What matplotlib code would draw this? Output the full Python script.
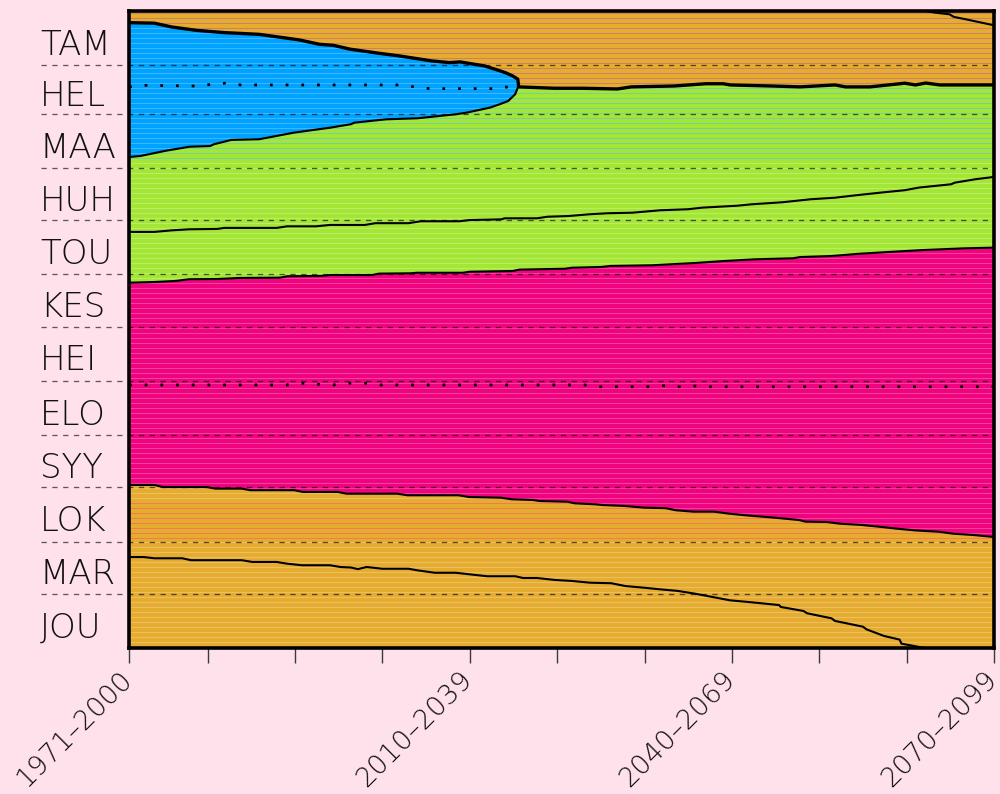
import numpy as np
import matplotlib
matplotlib.use('Agg')
import matplotlib.pyplot as plt
from matplotlib import transforms
from matplotlib import font_manager as fm

# ---------------- data (x = centre year of 30-yr period, y = day of year) ----
month_labels = ['TAM', 'HEL', 'MAA', 'HUH', 'TOU', 'KES',
                'HEI', 'ELO', 'SYY', 'LOK', 'MAR', 'JOU']
month_days = [31, 28, 31, 30, 31, 30, 31, 31, 30, 31, 30, 31]

period_labels = ['1971\u20132000', '2010\u20132039', '2040\u20132069', '2070\u20132099']
period_mid = [1985.5, 2024.5, 2054.5, 2084.5]
tick_years = [1985.5, 1994.5, 2004.5, 2014.5, 2024.5, 2034.5,
              2044.5, 2054.5, 2064.5, 2074.5, 2084.5]

# start of winter (autumn -> winter)
winter_years = [1985.5, 1988.4, 1990.4, 1993.2, 1996.4, 2000.4, 2005.0, 2007.3,
                2008.9, 2010.8, 2014.2, 2016.5, 2020.1, 2022.2, 2023.4, 2026.2,
                2027.4, 2028.6, 2029.4, 2030.0]
winter_start_days = [6.7, 7.0, 9.2, 11.1, 12.4, 13.4, 16.6, 19.1, 19.7, 21.9,
                     24.3, 25.8, 28.6, 29.6, 29.2, 31.5, 33.4, 35.4, 37.2, 39.1]

# end of winter (winter -> spring)
thaw_years = [1985.5, 1986.8, 1989.6, 1992.4, 1994.8, 1995.2, 1997.2, 2000.4,
              2004.4, 2008.5, 2010.9, 2011.3, 2014.9, 2018.5, 2022.9, 2024.1,
              2026.8, 2027.9, 2028.9, 2029.7, 2030.0]
winter_end_days = [83.7, 83.1, 80.2, 77.8, 77.4, 76.4, 73.9, 73.5, 69.7, 66.9,
                   64.9, 64.0, 62.1, 61.5, 59.2, 58.3, 55.4, 53.5, 51.6, 47.7, 43.9]

# autumn -> spring once winter has vanished
melt_years = [2030.1, 2034.2, 2037.4, 2041.4, 2043.0, 2047.9, 2051.5, 2053.5,
              2054.3, 2059.1, 2062.3, 2066.3, 2067.5, 2070.3, 2074.3, 2075.5,
              2076.7, 2078.3, 2084.5]
autumn_spring_days = [43.5, 44.3, 44.3, 44.7, 43.5, 43.0, 41.7, 41.7, 42.4, 43.0,
                      43.5, 42.4, 43.5, 43.5, 41.4, 42.4, 41.3, 42.4, 42.4]

# line inside spring
spring_years = [1985.5, 1988.4, 1990.4, 1992.4, 1995.6, 1996.4, 2002.4, 2003.6,
                2006.9, 2008.5, 2012.5, 2013.7, 2017.5, 2018.9, 2023.3, 2024.5,
                2028.1, 2028.5, 2032.2, 2033.4, 2035.8, 2038.2, 2040.3, 2043.1,
                2046.3, 2049.5, 2051.1, 2055.1, 2056.7, 2060.3, 2063.5, 2066.3,
                2068.7, 2071.5, 2074.3, 2075.9, 2079.6, 2080.0, 2082.4, 2084.5]
spring_mid_days = [126.6, 126.6, 125.7, 125.1, 124.9, 124.3, 124.3, 123.4, 123.4,
                   122.6, 122.6, 121.6, 121.6, 120.5, 120.5, 119.8, 119.4, 118.8,
                   118.8, 117.9, 117.5, 116.5, 115.9, 115.6, 114.2, 113.6, 112.7,
                   111.6, 110.8, 109.6, 107.9, 107.0, 105.6, 104.1, 102.7, 101.2,
                   99.3, 98.4, 96.4, 95.1]

# start of summer
summer_start_years = [1985.5, 1988.4, 1990.8, 1992.4, 1995.6, 1998.0, 2002.8,
                      2003.6, 2007.6, 2008.5, 2013.3, 2014.1, 2017.7, 2018.5,
                      2023.7, 2024.5, 2029.4, 2030.2, 2035.4, 2036.2, 2039.5,
                      2040.6, 2045.4, 2050.3, 2053.5, 2057.1, 2061.5, 2062.3,
                      2065.9, 2069.1, 2073.1, 2076.3, 2081.1, 2084.5]
summer_start_days = [155.7, 155.3, 154.7, 153.7, 153.6, 153.0, 152.8, 152.0,
                     151.8, 151.3, 151.3, 150.5, 150.3, 150.0, 150.0, 149.4,
                     149.0, 148.2, 147.7, 147.1, 146.7, 146.1, 145.7, 144.4,
                     143.3, 142.3, 141.7, 141.0, 140.4, 139.1, 137.9, 137.0,
                     136.0, 135.6]

# end of summer
summer_end_years = [1985.5, 1988.4, 1989.4, 1994.4, 1995.4, 1998.4, 1999.4, 2004.4,
                    2005.4, 2009.4, 2010.4, 2016.2, 2017.4, 2023.2, 2024.4, 2028.1,
                    2029.3, 2031.7, 2032.5, 2035.7, 2036.5, 2038.9, 2039.7, 2042.1,
                    2044.5, 2046.9, 2048.1, 2050.1, 2052.5, 2054.1, 2056.1, 2059.3,
                    2062.2, 2062.9, 2065.3, 2066.9, 2069.3, 2071.7, 2073.3, 2075.4,
                    2078.2, 2079.8, 2082.2, 2084.5]
summer_end_days = [271.6, 271.6, 272.8, 272.8, 273.7, 273.7, 274.6, 274.6, 275.6,
                   275.6, 276.6, 276.6, 277.5, 277.5, 278.5, 278.9, 279.8, 280.2,
                   280.8, 281.2, 282.1, 282.7, 283.1, 283.6, 284.6, 284.9, 286.1,
                   286.9, 286.9, 288.0, 289.0, 290.3, 291.7, 292.6, 292.8, 293.8,
                   294.5, 295.7, 296.6, 297.6, 298.4, 299.5, 300.3, 301.4]

# line inside autumn (runs past new year at the end of the century)
late_years = [1985.5, 1987.2, 1988.4, 1991.6, 1992.6, 1998.4, 1999.6, 2002.4,
              2003.6, 2005.3, 2008.5, 2009.7, 2010.9, 2011.7, 2012.7, 2014.5,
              2017.5, 2018.5, 2020.5, 2022.9, 2024.5, 2026.5, 2029.7, 2030.6,
              2032.2, 2034.2, 2036.2, 2038.3, 2040.7, 2042.3, 2044.3, 2046.3,
              2048.3, 2050.3, 2052.3, 2054.3, 2056.3, 2058.3, 2059.9, 2060.1,
              2062.7, 2063.1, 2065.9, 2066.3, 2069.5, 2069.9, 2070.9, 2071.9,
              2073.7, 2073.9, 2075.9, 2077.8, 2079.4, 2079.9, 2081.3, 2084.3]
late_days = [312.9, 312.9, 313.6, 313.6, 314.7, 314.7, 315.7, 315.7, 316.7, 317.6,
             317.6, 318.6, 318.9, 319.8, 318.6, 319.6, 319.6, 320.5, 321.9, 321.9,
             322.8, 323.9, 323.9, 324.9, 324.9, 326.0, 326.6, 327.6, 327.9, 329.5,
             330.4, 331.4, 332.3, 333.9, 335.8, 337.7, 338.6, 339.6, 340.4, 341.5,
             343.8, 345.1, 348.0, 349.5, 352.8, 354.3, 356.2, 358.1, 360.2, 362.5,
             364.4, 366.0, 366.9, 368.4, 369.8, 373.0]

# coldest / warmest day (dotted)
cold_years = [1985.5, 1987.5, 1993.0, 1996.5, 1998.3, 2016.4, 2018.2, 2019.9,
              2027.1, 2028.9]
cold_days = [43.5, 42.6, 43.0, 41.4, 42.4, 42.4, 43.5, 44.5, 44.5, 43.5]
warm_years = [1985.5, 2003.5, 2005.2, 2007.1, 2008.9, 2010.6, 2012.5, 2014.3,
              2037.6, 2039.3, 2044.8, 2046.6, 2048.3, 2050.1, 2051.9, 2084.5]
warm_days = [214.3, 214.3, 213.3, 213.9, 214.3, 213.3, 213.3, 214.3, 214.3, 215.3,
             215.3, 214.7, 215.3, 214.9, 215.3, 215.3]

for a, b in [(winter_years, winter_start_days), (thaw_years, winter_end_days),
             (melt_years, autumn_spring_days), (spring_years, spring_mid_days),
             (summer_start_years, summer_start_days),
             (summer_end_years, summer_end_days), (late_years, late_days),
             (cold_years, cold_days), (warm_years, warm_days)]:
    assert len(a) == len(b)

# ---------------- style ----------------
BG = '#ffe1ec'
C_AUT = '#e5ac30'
C_WIN = '#00a2ff'
C_SPR = '#a4e636'
C_SUM = '#f0037f'


def pick_font(size):
    prefs = ['DejaVu Sans', 'Lato', 'Roboto', 'Open Sans', 'Noto Sans', 'Inter']
    cands = {}
    for f in fm.fontManager.ttflist:
        w = f.weight
        if isinstance(w, str):
            w = fm.weight_dict.get(w, 400)
        if f.name in prefs and f.style == 'normal' and w <= 300:
            cands.setdefault(f.name, []).append((abs(w - 250), f.fname))
    for p in prefs:
        if p in cands:
            fp = fm.FontProperties(fname=sorted(cands[p])[0][1])
            fp.set_size(size)
            return fp
    return fm.FontProperties(family='DejaVu Sans', size=size)


fp_y = pick_font(24.5)
fp_x = pick_font(19.5)

fig = plt.figure(figsize=(10, 7.94), dpi=100)
fig.patch.set_facecolor(BG)
ax = fig.add_axes([0.129, 0.1839, 0.865, 0.8023])
x0, x1 = min(tick_years), max(tick_years)
ax.set_xlim(x0, x1)
ax.set_ylim(365, 0)
ax.set_facecolor(C_AUT)

thick_x = winter_years + melt_years
thick_y = winter_start_days + autumn_spring_days

top_poly = ax.fill([x0] + thick_x + [x1], [0] + thick_y + [0],
                   color=C_AUT, lw=0, zorder=1)[0]
bot_poly = ax.fill(summer_end_years + [x1, x0], summer_end_days + [365, 365],
                   color=C_AUT, lw=0, zorder=1)[0]
win_poly = ax.fill(winter_years + thaw_years[::-1],
                   winter_start_days + winter_end_days[::-1],
                   color=C_WIN, lw=0, zorder=1)[0]
spr_poly = ax.fill(thaw_years + melt_years + summer_start_years[::-1],
                   winter_end_days + autumn_spring_days + summer_start_days[::-1],
                   color=C_SPR, lw=0, zorder=1)[0]
sum_poly = ax.fill(summer_start_years + summer_end_years[::-1],
                   summer_start_days + summer_end_days[::-1],
                   color=C_SUM, lw=0, zorder=1)[0]

# fine horizontal texture
stripe = np.arange(1.4, 365, 2.86)
ax.hlines(stripe, x0, x1, colors='white', lw=0.7, alpha=0.25, zorder=2)
m = ax.hlines(stripe, x0, x1, colors='#c97f6c', lw=0.7, zorder=2.1)
m.set_clip_path(top_poly)
sel = stripe[(stripe > 279) & (stripe < 304)]
r = ax.hlines(sel, x0, x1, colors='#f07a55', lw=0.7, zorder=2.1)
r.set_clip_path(bot_poly)
sel = stripe[(stripe > 44) & (stripe < 85)]
t = ax.hlines(sel, x0, x1, colors='#74cf9e', lw=0.7, zorder=2.1)
t.set_clip_path(spr_poly)

# month separators
trans_y = transforms.blended_transform_factory(ax.transAxes, ax.transData)
bounds = np.cumsum(month_days)
for b in bounds[:-1]:
    ax.plot([-0.1017, 1], [b, b], transform=trans_y, color='black', alpha=0.62,
            lw=0.95, dashes=(4, 4.2), clip_on=False, zorder=3)

# month labels
centers = bounds - np.array(month_days) / 2.0
for c, lab in zip(centers, month_labels):
    ax.text(-0.1029, c + 9.5, lab, transform=trans_y, ha='left', va='baseline',
            fontproperties=fp_y, color='#111111', clip_on=False)

# boundaries
ax.plot(thick_x, thick_y, color='black', lw=2.4, zorder=4)
ax.plot(thaw_years, winter_end_days, color='black', lw=1.5, zorder=4)
ax.plot(spring_years, spring_mid_days, color='black', lw=1.5, zorder=4)
ax.plot(summer_start_years, summer_start_days, color='black', lw=1.5, zorder=4)
ax.plot(summer_end_years, summer_end_days, color='black', lw=1.5, zorder=4)
late = np.array(late_days)
ax.plot(late_years, late, color='black', lw=1.5, zorder=4)
ax.plot(late_years, late - 365, color='black', lw=1.5, zorder=4)
ax.plot(cold_years, cold_days, color='black', lw=2.0, linestyle=(0, (1, 4.65)), zorder=4)
ax.plot(warm_years, warm_days, color='black', lw=2.0, linestyle=(0, (1, 4.65)), zorder=4)

# axes frame and ticks
for s in ax.spines.values():
    s.set_linewidth(2.6)
    s.set_zorder(6)
ax.set_yticks([])
ax.set_xticks(tick_years)
ax.set_xticklabels([])
ax.tick_params(axis='x', length=10.8, width=1.0, color='#3a3a3a', direction='out')

trans_x = transforms.blended_transform_factory(ax.transData, ax.transAxes) + \
    transforms.ScaledTranslation(4 / 100, -33 / 100, fig.dpi_scale_trans)
for yr, lab in zip(period_mid, period_labels):
    ax.text(yr, 0, lab, transform=trans_x, rotation=45, rotation_mode='anchor',
            ha='right', va='baseline', fontproperties=fp_x, color='#111111',
            clip_on=False)

fig.savefig('out.png', dpi=100, facecolor=BG)
